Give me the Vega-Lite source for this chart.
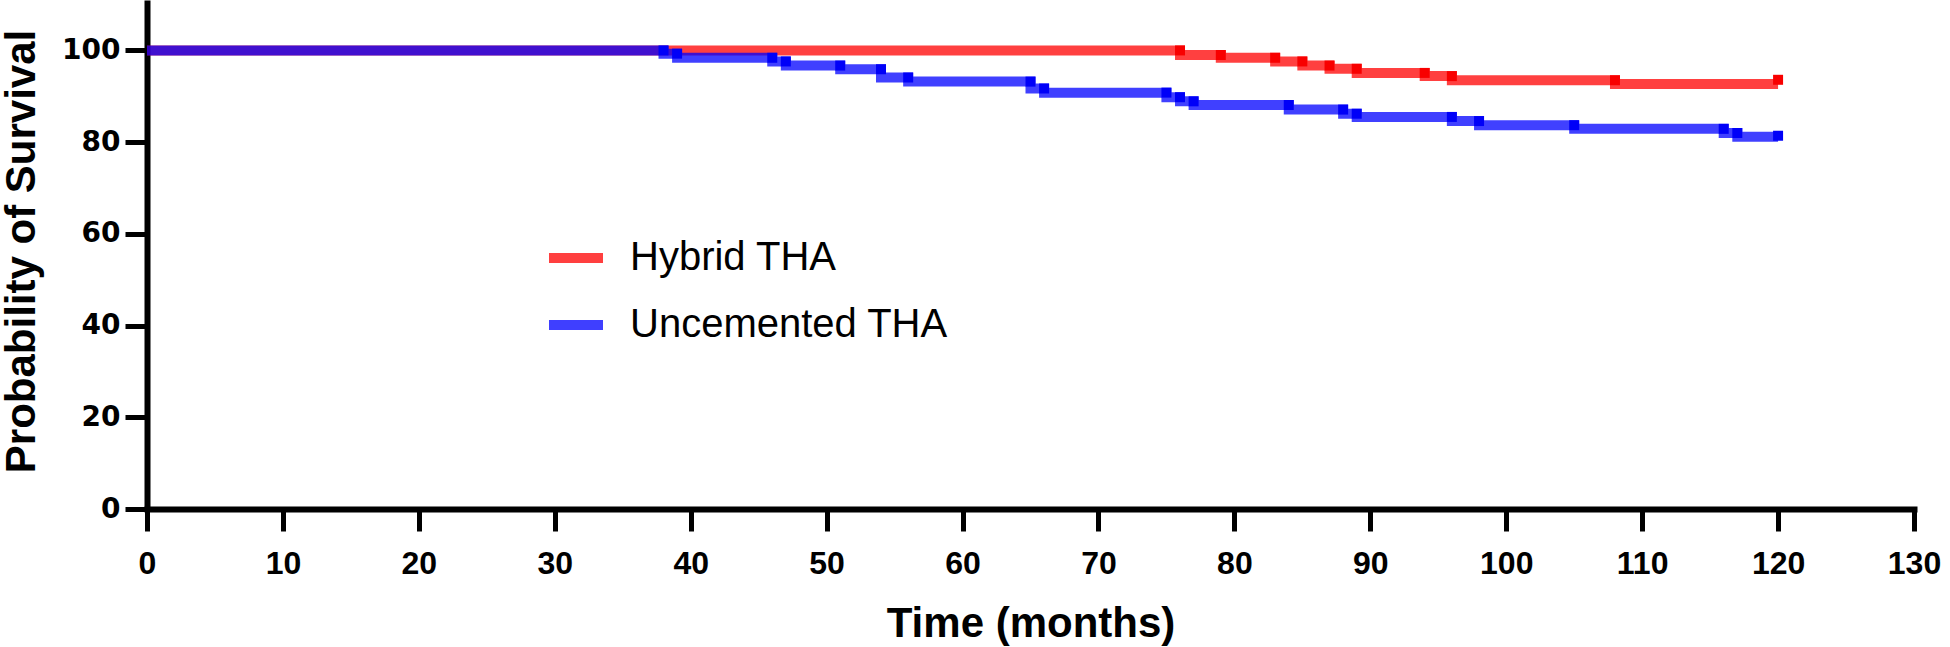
{
  "$schema": "https://vega.github.io/schema/vega-lite/v6.json",
  "width": 1767,
  "height": 509,
  "autosize": "none",
  "padding": {"left": 147, "top": 0, "right": 36, "bottom": 138},
  "background": "white",
  "config": {
    "view": {"stroke": null},
    "font": "Liberation Sans"
  },
  "datasets": {
    "steps": [
      {"g": "Hybrid THA", "t": 0, "v": 100},
      {"g": "Hybrid THA", "t": 76, "v": 99.0},
      {"g": "Hybrid THA", "t": 79, "v": 98.4},
      {"g": "Hybrid THA", "t": 83, "v": 97.6},
      {"g": "Hybrid THA", "t": 85, "v": 96.7},
      {"g": "Hybrid THA", "t": 87, "v": 96.0},
      {"g": "Hybrid THA", "t": 89, "v": 95.1},
      {"g": "Hybrid THA", "t": 94, "v": 94.4},
      {"g": "Hybrid THA", "t": 96, "v": 93.5},
      {"g": "Hybrid THA", "t": 108, "v": 92.7},
      {"g": "Hybrid THA", "t": 120, "v": 92.7},
      {"g": "Uncemented THA", "t": 0, "v": 100},
      {"g": "Uncemented THA", "t": 38, "v": 99.3},
      {"g": "Uncemented THA", "t": 39, "v": 98.4},
      {"g": "Uncemented THA", "t": 46, "v": 97.6},
      {"g": "Uncemented THA", "t": 47, "v": 96.7},
      {"g": "Uncemented THA", "t": 51, "v": 95.9},
      {"g": "Uncemented THA", "t": 54, "v": 94.1},
      {"g": "Uncemented THA", "t": 56, "v": 93.2},
      {"g": "Uncemented THA", "t": 65, "v": 91.7},
      {"g": "Uncemented THA", "t": 66, "v": 90.8},
      {"g": "Uncemented THA", "t": 75, "v": 89.8},
      {"g": "Uncemented THA", "t": 76, "v": 88.9},
      {"g": "Uncemented THA", "t": 77, "v": 88.1},
      {"g": "Uncemented THA", "t": 84, "v": 87.1},
      {"g": "Uncemented THA", "t": 88, "v": 86.2},
      {"g": "Uncemented THA", "t": 89, "v": 85.5},
      {"g": "Uncemented THA", "t": 96, "v": 84.6},
      {"g": "Uncemented THA", "t": 98, "v": 83.7},
      {"g": "Uncemented THA", "t": 105, "v": 82.9},
      {"g": "Uncemented THA", "t": 116, "v": 82.0},
      {"g": "Uncemented THA", "t": 117, "v": 81.2},
      {"g": "Uncemented THA", "t": 120, "v": 81.2}
    ],
    "marks": [
      {"g": "Hybrid THA", "t": 76, "v": 100},
      {"g": "Hybrid THA", "t": 79, "v": 99.0},
      {"g": "Hybrid THA", "t": 83, "v": 98.4},
      {"g": "Hybrid THA", "t": 85, "v": 97.6},
      {"g": "Hybrid THA", "t": 87, "v": 96.7},
      {"g": "Hybrid THA", "t": 89, "v": 96.0},
      {"g": "Hybrid THA", "t": 94, "v": 95.1},
      {"g": "Hybrid THA", "t": 96, "v": 94.4},
      {"g": "Hybrid THA", "t": 108, "v": 93.5},
      {"g": "Hybrid THA", "t": 120, "v": 93.6},
      {"g": "Uncemented THA", "t": 38, "v": 100},
      {"g": "Uncemented THA", "t": 39, "v": 99.3},
      {"g": "Uncemented THA", "t": 46, "v": 98.4},
      {"g": "Uncemented THA", "t": 47, "v": 97.6},
      {"g": "Uncemented THA", "t": 51, "v": 96.7},
      {"g": "Uncemented THA", "t": 54, "v": 95.9},
      {"g": "Uncemented THA", "t": 56, "v": 94.1},
      {"g": "Uncemented THA", "t": 65, "v": 93.2},
      {"g": "Uncemented THA", "t": 66, "v": 91.7},
      {"g": "Uncemented THA", "t": 75, "v": 90.8},
      {"g": "Uncemented THA", "t": 76, "v": 89.8},
      {"g": "Uncemented THA", "t": 77, "v": 88.9},
      {"g": "Uncemented THA", "t": 84, "v": 88.1},
      {"g": "Uncemented THA", "t": 88, "v": 87.1},
      {"g": "Uncemented THA", "t": 89, "v": 86.2},
      {"g": "Uncemented THA", "t": 96, "v": 85.5},
      {"g": "Uncemented THA", "t": 98, "v": 84.6},
      {"g": "Uncemented THA", "t": 105, "v": 83.7},
      {"g": "Uncemented THA", "t": 116, "v": 82.9},
      {"g": "Uncemented THA", "t": 117, "v": 82.0},
      {"g": "Uncemented THA", "t": 120, "v": 81.4}
    ]
  },
  "encoding": {
    "x": {
      "field": "t", "type": "quantitative",
      "scale": {"domain": [0, 130], "nice": false, "zero": false},
      "axis": {
        "title": "Time (months)",
        "values": [0, 10, 20, 30, 40, 50, 60, 70, 80, 90, 100, 110, 120, 130],
        "grid": false,
        "domainColor": "black", "domainWidth": 6, "domainCap": "square",
        "tickColor": "black", "tickWidth": 5, "tickSize": 22,
        "labelFont": "Liberation Sans", "labelFontWeight": "bold", "labelFontSize": 32, "labelColor": "black",
        "labelPadding": 17, "labelFlush": false,
        "titleFont": "Liberation Sans", "titleFontWeight": "bold", "titleFontSize": 42, "titleColor": "black",
        "titleBaseline": "alphabetic", "titleY": 127
      }
    },
    "y": {
      "field": "v", "type": "quantitative",
      "scale": {"domain": [0, 111], "nice": false},
      "axis": {
        "title": "Probability of Survival",
        "values": [0, 20, 40, 60, 80, 100],
        "grid": false,
        "domainColor": "black", "domainWidth": 6,
        "tickColor": "black", "tickWidth": 5, "tickSize": 22,
        "labelFont": "DejaVu Sans", "labelFontWeight": "bold", "labelFontSize": 28, "labelColor": "black",
        "labelPadding": 5,
        "titleFont": "Liberation Sans", "titleFontWeight": "bold", "titleFontSize": 42, "titleColor": "black",
        "titleAngle": 270, "titleBaseline": "alphabetic", "titleAlign": "center",
        "titleX": -113, "titleY": 251
      }
    }
  },
  "layer": [
    {
      "data": {"name": "steps"},
      "transform": [{"filter": "datum.g === 'Hybrid THA'"}],
      "mark": {"type": "line", "interpolate": "step-after", "strokeWidth": 10, "opacity": 0.75},
      "encoding": {
        "color": {
          "field": "g", "type": "nominal",
          "scale": {"domain": ["Hybrid THA", "Uncemented THA"], "range": ["#FF0000", "#0000FF"]},
          "legend": {
            "title": null, "orient": "none", "legendX": 397, "legendY": 226,
            "symbolType": "stroke", "symbolSize": 2916, "symbolStrokeWidth": 10, "symbolOpacity": 0.75,
            "labelFont": "Liberation Sans", "labelFontSize": 40, "labelColor": "black", "labelOffset": 22,
            "rowPadding": 15, "padding": 0, "labelLimit": 600
          }
        }
      }
    },
    {
      "data": {"name": "steps"},
      "transform": [{"filter": "datum.g === 'Uncemented THA'"}],
      "mark": {"type": "line", "interpolate": "step-after", "strokeWidth": 10, "opacity": 0.75},
      "encoding": {
        "color": {"field": "g", "type": "nominal"}
      }
    },
    {
      "data": {"name": "marks"},
      "transform": [{"filter": "datum.g === 'Hybrid THA'"}],
      "mark": {"type": "point", "shape": "square", "filled": true, "size": 100, "color": "#F80000", "opacity": 1}
    },
    {
      "data": {"name": "marks"},
      "transform": [{"filter": "datum.g === 'Uncemented THA'"}],
      "mark": {"type": "point", "shape": "square", "filled": true, "size": 100, "color": "#0000F8", "opacity": 1}
    }
  ]
}
